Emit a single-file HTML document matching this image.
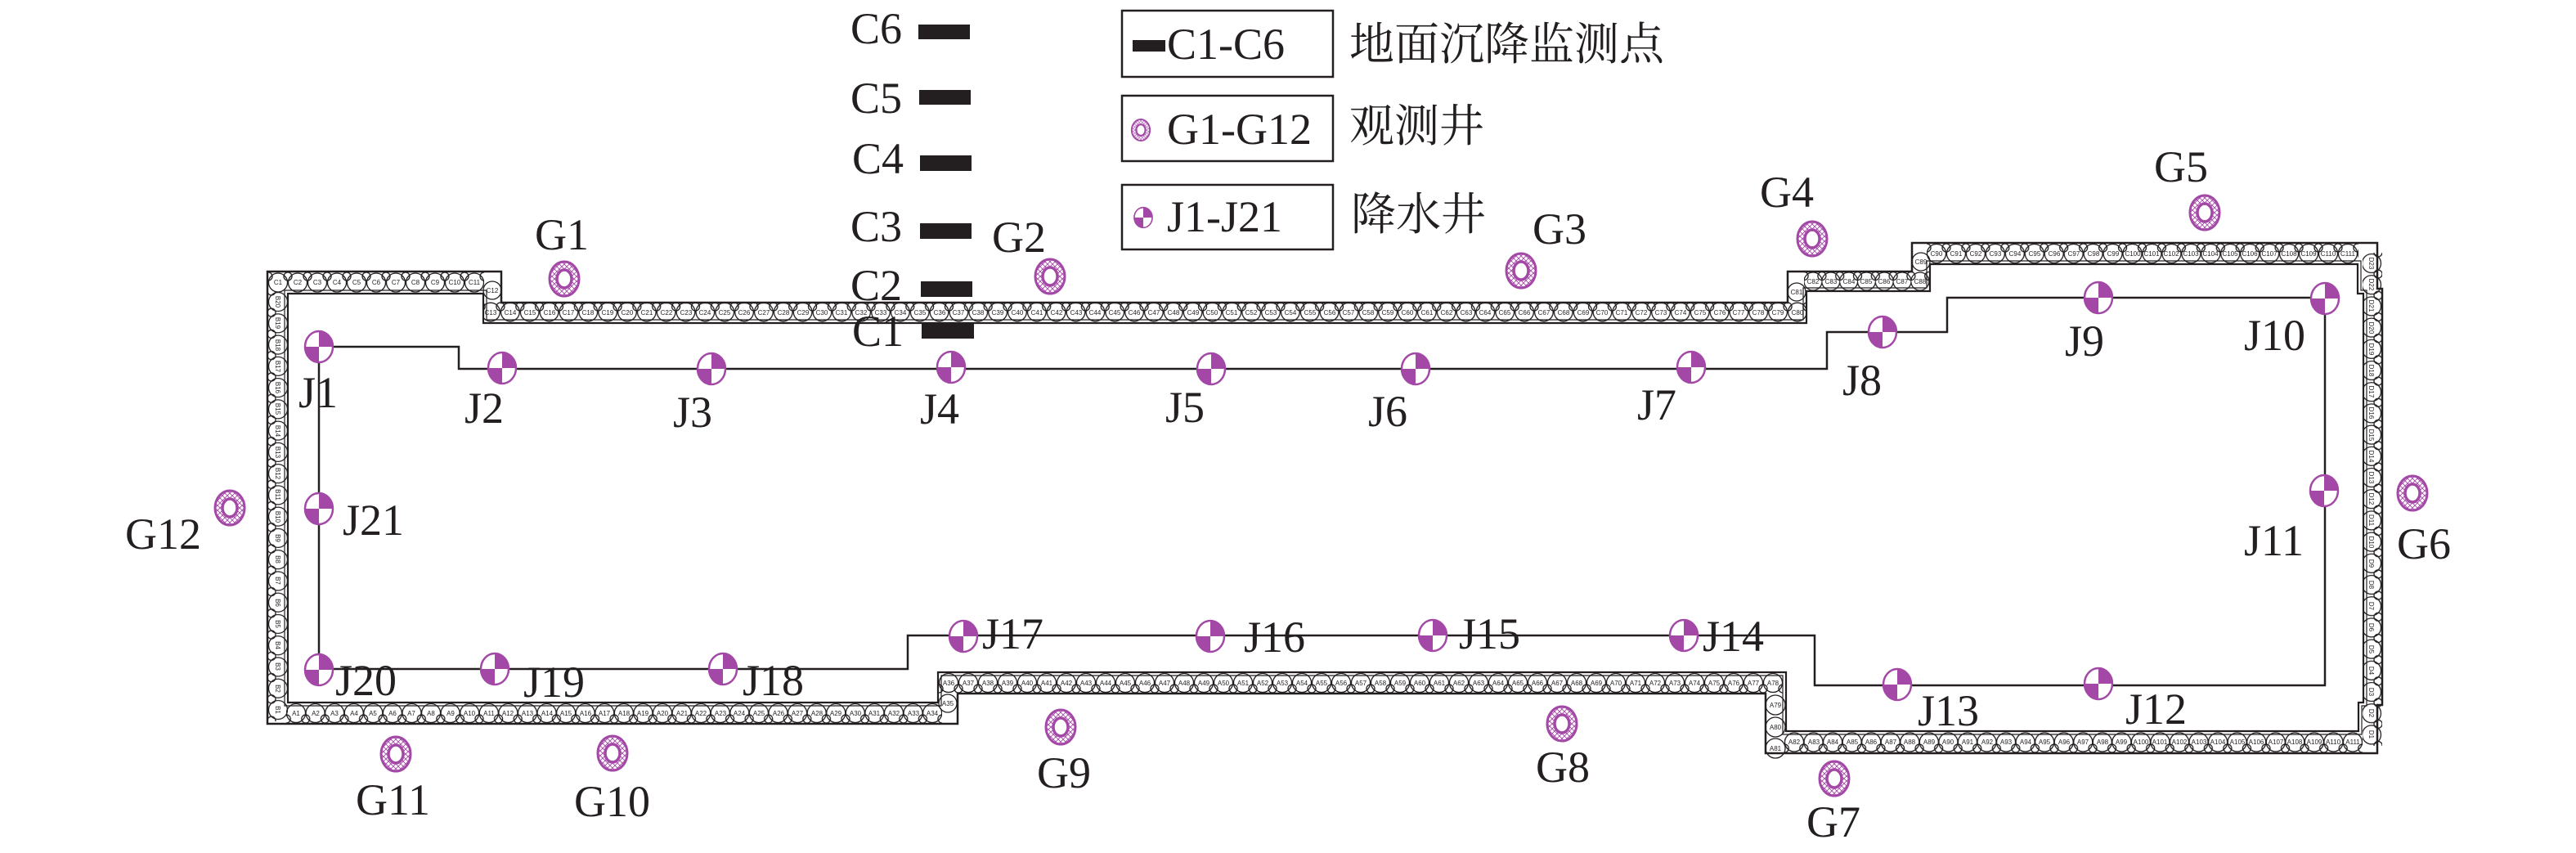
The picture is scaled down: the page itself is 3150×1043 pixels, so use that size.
<!DOCTYPE html>
<html>
<head>
<meta charset="utf-8">
<style>
html,body{margin:0;padding:0;background:#fff;}
svg{display:block;}
.lb{font-family:"Liberation Serif","Times New Roman",serif;font-size:54px;fill:#231f20;}
.cn{font-family:"Liberation Serif","Noto Serif CJK SC","Noto Sans CJK SC",serif;font-size:55px;fill:#231f20;}
.w{font-family:"Liberation Sans",sans-serif;font-size:8px;fill:#231f20;text-anchor:middle;}
</style>
</head>
<body>
<svg width="3150" height="1043" viewBox="0 0 3150 1043" xmlns="http://www.w3.org/2000/svg">
<rect width="3150" height="1043" fill="#fff"/>
<defs>
<pattern id="h" patternUnits="userSpaceOnUse" width="6" height="6"><path d="M0,0L6,6M6,0L0,6" stroke="#a348a6" stroke-width="0.9"/></pattern>
<g id="G">
<path d="M-18,0a18,21 0 1,0 36,0a18,21 0 1,0 -36,0ZM-9,0a9,11 0 1,0 18,0a9,11 0 1,0 -18,0Z" fill="url(#h)" fill-rule="evenodd"/>
<ellipse rx="18" ry="21" fill="none" stroke="#a348a6" stroke-width="3"/>
<ellipse rx="9" ry="11" fill="none" stroke="#a348a6" stroke-width="3.5"/>
</g>
<g id="J">
<ellipse rx="17" ry="19" fill="#fff" stroke="#a348a6" stroke-width="2.5"/>
<path d="M0,0V-19A17,19 0 0 1 17,0ZM0,0V19A17,19 0 0 1 -17,0Z" fill="#a348a6"/>
</g>
<pattern id="pT1" patternUnits="userSpaceOnUse" x="328" y="332" width="24" height="27"><g fill="none" stroke="#231f20" stroke-width="1.3"><circle cx="12" cy="13.5" r="11.5"/><circle cx="0" cy="6" r="5"/><circle cx="24" cy="6" r="5"/></g></pattern>
<pattern id="pT2" patternUnits="userSpaceOnUse" x="588.075" y="369" width="23.85" height="26"><g fill="none" stroke="#231f20" stroke-width="1.3"><circle cx="11.925" cy="12.5" r="11.3"/><circle cx="0" cy="6" r="5"/><circle cx="23.85" cy="6" r="5"/></g></pattern>
<pattern id="pT3" patternUnits="userSpaceOnUse" x="2206.1" y="332" width="21.8" height="24"><g fill="none" stroke="#231f20" stroke-width="1.3"><circle cx="10.9" cy="12" r="11"/><circle cx="0" cy="5.5" r="5"/><circle cx="21.8" cy="5.5" r="5"/></g></pattern>
<pattern id="pT4" patternUnits="userSpaceOnUse" x="2356.025" y="297" width="23.95" height="26"><g fill="none" stroke="#231f20" stroke-width="1.3"><circle cx="11.975" cy="13" r="11.5"/><circle cx="0" cy="6" r="5"/><circle cx="23.95" cy="6" r="5"/></g></pattern>
<pattern id="pR" patternUnits="userSpaceOnUse" x="2889" y="308.9" width="24" height="26.2"><g fill="none" stroke="#231f20" stroke-width="1.3"><circle cx="11" cy="13.1" r="11.5"/><circle cx="19" cy="0" r="5"/><circle cx="19" cy="26.2" r="5"/></g></pattern>
<pattern id="pB4" patternUnits="userSpaceOnUse" x="2182.225" y="894" width="23.55" height="27"><g fill="none" stroke="#231f20" stroke-width="1.3"><circle cx="11.775" cy="13.5" r="11.5"/><circle cx="0" cy="21" r="5"/><circle cx="23.55" cy="21" r="5"/></g></pattern>
<pattern id="pB3" patternUnits="userSpaceOnUse" x="1148" y="822" width="24" height="26"><g fill="none" stroke="#231f20" stroke-width="1.3"><circle cx="12" cy="13" r="11.5"/><circle cx="0" cy="20" r="5"/><circle cx="24" cy="20" r="5"/></g></pattern>
<pattern id="pB1" patternUnits="userSpaceOnUse" x="350.21" y="859" width="23.58" height="26"><g fill="none" stroke="#231f20" stroke-width="1.3"><circle cx="11.79" cy="13" r="11.5"/><circle cx="0" cy="20" r="5"/><circle cx="23.58" cy="20" r="5"/></g></pattern>
<pattern id="pL" patternUnits="userSpaceOnUse" x="327" y="355.93" width="25" height="26.26"><g fill="none" stroke="#231f20" stroke-width="1.3"><circle cx="13" cy="13.13" r="11.5"/><circle cx="5" cy="0" r="5"/><circle cx="5" cy="26.26" r="5"/></g></pattern>
</defs>

<!-- wall band circles -->
<rect x="328" y="332" width="264" height="27" fill="url(#pT1)"/>
<rect x="591" y="369" width="1619" height="26" fill="url(#pT2)"/>
<rect x="2206" y="332" width="153" height="24" fill="url(#pT3)"/>
<rect x="2356" y="297" width="528" height="26" fill="url(#pT4)"/>
<rect x="2889" y="309" width="24" height="603" fill="url(#pR)"/>
<rect x="2182" y="894" width="707" height="27" fill="url(#pB4)"/>
<rect x="1148" y="822" width="1032" height="26" fill="url(#pB3)"/>
<rect x="350" y="859" width="802" height="26" fill="url(#pB1)"/>
<rect x="327" y="356" width="25" height="526" fill="url(#pL)"/>
<g fill="none" stroke="#231f20" stroke-width="1.3">
<circle cx="602" cy="355" r="11"/><circle cx="2197" cy="357" r="11"/><circle cx="2349" cy="320" r="11"/>
<circle cx="1159" cy="860" r="11"/><circle cx="2171" cy="862" r="12"/><circle cx="2171" cy="889" r="12"/><circle cx="2171" cy="915" r="12"/>
</g>

<!-- wall band labels -->
<g class="w">
<text x="340" y="348">C1</text><text x="364" y="348">C2</text><text x="388" y="348">C3</text><text x="412" y="348">C4</text><text x="436" y="348">C5</text><text x="460" y="348">C6</text><text x="484" y="348">C7</text><text x="508" y="348">C8</text><text x="532" y="348">C9</text><text x="556" y="348">C10</text><text x="580" y="348">C11</text>
<text x="602" y="358">C12</text>
<text x="600" y="385">C13</text><text x="624" y="385">C14</text><text x="648" y="385">C15</text><text x="672" y="385">C16</text><text x="695" y="385">C17</text><text x="719" y="385">C18</text><text x="743" y="385">C19</text><text x="767" y="385">C20</text><text x="791" y="385">C21</text><text x="815" y="385">C22</text><text x="839" y="385">C23</text><text x="862" y="385">C24</text><text x="886" y="385">C25</text><text x="910" y="385">C26</text><text x="934" y="385">C27</text><text x="958" y="385">C28</text><text x="982" y="385">C29</text><text x="1005" y="385">C30</text><text x="1029" y="385">C31</text><text x="1053" y="385">C32</text><text x="1077" y="385">C33</text><text x="1101" y="385">C34</text><text x="1125" y="385">C35</text><text x="1149" y="385">C36</text><text x="1172" y="385">C37</text><text x="1196" y="385">C38</text><text x="1220" y="385">C39</text><text x="1244" y="385">C40</text><text x="1268" y="385">C41</text><text x="1292" y="385">C42</text><text x="1316" y="385">C43</text><text x="1339" y="385">C44</text><text x="1363" y="385">C45</text><text x="1387" y="385">C46</text><text x="1411" y="385">C47</text><text x="1435" y="385">C48</text><text x="1459" y="385">C49</text><text x="1482" y="385">C50</text><text x="1506" y="385">C51</text><text x="1530" y="385">C52</text><text x="1554" y="385">C53</text><text x="1578" y="385">C54</text><text x="1602" y="385">C55</text><text x="1626" y="385">C56</text><text x="1649" y="385">C57</text><text x="1673" y="385">C58</text><text x="1697" y="385">C59</text><text x="1721" y="385">C60</text><text x="1745" y="385">C61</text><text x="1769" y="385">C62</text><text x="1793" y="385">C63</text><text x="1816" y="385">C64</text><text x="1840" y="385">C65</text><text x="1864" y="385">C66</text><text x="1888" y="385">C67</text><text x="1912" y="385">C68</text><text x="1936" y="385">C69</text><text x="1959" y="385">C70</text><text x="1983" y="385">C71</text><text x="2007" y="385">C72</text><text x="2031" y="385">C73</text><text x="2055" y="385">C74</text><text x="2079" y="385">C75</text><text x="2103" y="385">C76</text><text x="2126" y="385">C77</text><text x="2150" y="385">C78</text><text x="2174" y="385">C79</text><text x="2198" y="385">C80</text>
<text x="2197" y="360">C81</text>
<text x="2217" y="347">C82</text><text x="2239" y="347">C83</text><text x="2261" y="347">C84</text><text x="2282" y="347">C85</text><text x="2304" y="347">C86</text><text x="2326" y="347">C87</text><text x="2348" y="347">C88</text>
<text x="2349" y="323">C89</text>
<text x="2368" y="313">C90</text><text x="2392" y="313">C91</text><text x="2416" y="313">C92</text><text x="2440" y="313">C93</text><text x="2464" y="313">C94</text><text x="2488" y="313">C95</text><text x="2512" y="313">C96</text><text x="2536" y="313">C97</text><text x="2560" y="313">C98</text><text x="2584" y="313">C99</text><text x="2608" y="313">C100</text><text x="2631" y="313">C101</text><text x="2655" y="313">C102</text><text x="2679" y="313">C103</text><text x="2703" y="313">C104</text><text x="2727" y="313">C105</text><text x="2751" y="313">C106</text><text x="2775" y="313">C107</text><text x="2799" y="313">C108</text><text x="2823" y="313">C109</text><text x="2847" y="313">C110</text><text x="2871" y="313">C111</text>
<text x="2194" y="910">A82</text><text x="2218" y="910">A83</text><text x="2241" y="910">A84</text><text x="2265" y="910">A85</text><text x="2288" y="910">A86</text><text x="2312" y="910">A87</text><text x="2335" y="910">A88</text><text x="2359" y="910">A89</text><text x="2382" y="910">A90</text><text x="2406" y="910">A91</text><text x="2430" y="910">A92</text><text x="2453" y="910">A93</text><text x="2477" y="910">A94</text><text x="2500" y="910">A95</text><text x="2524" y="910">A96</text><text x="2547" y="910">A97</text><text x="2571" y="910">A98</text><text x="2594" y="910">A99</text><text x="2618" y="910">A100</text><text x="2641" y="910">A101</text><text x="2665" y="910">A102</text><text x="2689" y="910">A103</text><text x="2712" y="910">A104</text><text x="2736" y="910">A105</text><text x="2759" y="910">A106</text><text x="2783" y="910">A107</text><text x="2806" y="910">A108</text><text x="2830" y="910">A109</text><text x="2853" y="910">A110</text><text x="2877" y="910">A111</text>
<text x="2171" y="865">A79</text><text x="2171" y="892">A80</text><text x="2171" y="918">A81</text>
<text x="1160" y="838">A36</text><text x="1184" y="838">A37</text><text x="1208" y="838">A38</text><text x="1232" y="838">A39</text><text x="1256" y="838">A40</text><text x="1280" y="838">A41</text><text x="1304" y="838">A42</text><text x="1328" y="838">A43</text><text x="1352" y="838">A44</text><text x="1376" y="838">A45</text><text x="1400" y="838">A46</text><text x="1424" y="838">A47</text><text x="1448" y="838">A48</text><text x="1472" y="838">A49</text><text x="1496" y="838">A50</text><text x="1520" y="838">A51</text><text x="1544" y="838">A52</text><text x="1568" y="838">A53</text><text x="1592" y="838">A54</text><text x="1616" y="838">A55</text><text x="1640" y="838">A56</text><text x="1664" y="838">A57</text><text x="1688" y="838">A58</text><text x="1712" y="838">A59</text><text x="1736" y="838">A60</text><text x="1760" y="838">A61</text><text x="1784" y="838">A62</text><text x="1808" y="838">A63</text><text x="1832" y="838">A64</text><text x="1856" y="838">A65</text><text x="1880" y="838">A66</text><text x="1904" y="838">A67</text><text x="1928" y="838">A68</text><text x="1952" y="838">A69</text><text x="1976" y="838">A70</text><text x="2000" y="838">A71</text><text x="2024" y="838">A72</text><text x="2048" y="838">A73</text><text x="2072" y="838">A74</text><text x="2096" y="838">A75</text><text x="2120" y="838">A76</text><text x="2144" y="838">A77</text><text x="2168" y="838">A78</text>
<text x="1159" y="863">A35</text>
<text x="362" y="875">A1</text><text x="386" y="875">A2</text><text x="409" y="875">A3</text><text x="433" y="875">A4</text><text x="456" y="875">A5</text><text x="480" y="875">A6</text><text x="503" y="875">A7</text><text x="527" y="875">A8</text><text x="551" y="875">A9</text><text x="574" y="875">A10</text><text x="598" y="875">A11</text><text x="621" y="875">A12</text><text x="645" y="875">A13</text><text x="669" y="875">A14</text><text x="692" y="875">A15</text><text x="716" y="875">A16</text><text x="739" y="875">A17</text><text x="763" y="875">A18</text><text x="786" y="875">A19</text><text x="810" y="875">A20</text><text x="834" y="875">A21</text><text x="857" y="875">A22</text><text x="881" y="875">A23</text><text x="904" y="875">A24</text><text x="928" y="875">A25</text><text x="952" y="875">A26</text><text x="975" y="875">A27</text><text x="999" y="875">A28</text><text x="1022" y="875">A29</text><text x="1046" y="875">A30</text><text x="1069" y="875">A31</text><text x="1093" y="875">A32</text><text x="1117" y="875">A33</text><text x="1140" y="875">A34</text>
<g transform="translate(2900,0) rotate(90)">
<text x="322" y="3">D23</text><text x="348" y="3">D22</text><text x="374" y="3">D21</text><text x="401" y="3">D20</text><text x="427" y="3">D19</text><text x="453" y="3">D18</text><text x="479" y="3">D17</text><text x="505" y="3">D16</text><text x="532" y="3">D15</text><text x="558" y="3">D14</text><text x="584" y="3">D13</text><text x="610" y="3">D12</text><text x="636" y="3">D11</text><text x="663" y="3">D10</text><text x="689" y="3">D9</text><text x="715" y="3">D8</text><text x="741" y="3">D7</text><text x="767" y="3">D6</text><text x="794" y="3">D5</text><text x="820" y="3">D4</text><text x="846" y="3">D3</text><text x="872" y="3">D2</text><text x="898" y="3">D1</text>
</g>
<g transform="translate(340,0) rotate(90)">
<text x="868" y="3">B1</text><text x="842" y="3">B2</text><text x="815" y="3">B3</text><text x="789" y="3">B4</text><text x="763" y="3">B5</text><text x="737" y="3">B6</text><text x="710" y="3">B7</text><text x="684" y="3">B8</text><text x="658" y="3">B9</text><text x="632" y="3">B10</text><text x="605" y="3">B11</text><text x="579" y="3">B12</text><text x="553" y="3">B13</text><text x="527" y="3">B14</text><text x="500" y="3">B15</text><text x="474" y="3">B16</text><text x="448" y="3">B17</text><text x="422" y="3">B18</text><text x="395" y="3">B19</text><text x="369" y="3">B20</text>
</g>
</g>

<!-- wall outlines -->
<g fill="none" stroke="#231f20" stroke-linejoin="miter">
<path d="M327,332H613V370H2186V332H2338V297H2907V353H2913V862H2907V921H2159V848H1171V885H327Z" stroke-width="2.5"/>
<path d="M352,359H591V395H2209V356H2360V323H2883V359H2890V859H2884V894H2184V822H1147V859H352Z" stroke-width="2.2"/>
<path d="M348,355H595V391H2205V352H2356V319H2887V355H2894V863H2888V898H2180V826H1151V863H348Z" stroke-width="1.2"/>
</g>

<!-- dewatering well connection line -->
<path d="M390,424H561V451H2234V406H2381V364H2843V838H2219V777H1110V818H390Z" fill="none" stroke="#231f20" stroke-width="2.5"/>

<!-- C bars -->
<g fill="#231f20">
<rect x="1123" y="30" width="63" height="18"/>
<rect x="1124" y="110" width="63" height="18"/>
<rect x="1125" y="190" width="63" height="19"/>
<rect x="1125" y="273" width="63" height="19"/>
<rect x="1126" y="344" width="63" height="19"/>
<rect x="1127" y="396" width="64" height="18"/>
</g>

<!-- Legend -->
<g fill="none" stroke="#231f20" stroke-width="2.5">
<rect x="1372" y="13" width="258" height="81"/>
<rect x="1372" y="117" width="258" height="80"/>
<rect x="1372" y="226" width="258" height="79"/>
</g>
<rect x="1385" y="49" width="40" height="14" fill="#231f20"/>
<use href="#G" transform="translate(1395,159) scale(0.62)"/>
<use href="#J" transform="translate(1398,266) scale(0.65)"/>
<text class="lb" x="1427" y="72">C1-C6</text>
<text class="lb" x="1427" y="176">G1-G12</text>
<text class="lb" x="1427" y="283">J1-J21</text>
<text class="cn" x="1650" y="73">地面沉降监测点</text>
<text class="cn" x="1650" y="173">观测井</text>
<text class="cn" x="1652" y="281">降水井</text>

<!-- C labels -->
<text class="lb" x="1040" y="53">C6</text>
<text class="lb" x="1040" y="138">C5</text>
<text class="lb" x="1042" y="212">C4</text>
<text class="lb" x="1040" y="295">C3</text>
<text class="lb" x="1040" y="367">C2</text>
<text class="lb" x="1042" y="423">C1</text>

<!-- G wells -->
<use href="#G" x="690" y="341"/>
<use href="#G" x="1284" y="338"/>
<use href="#G" x="1860" y="331"/>
<use href="#G" x="2216" y="292"/>
<use href="#G" x="2696" y="260"/>
<use href="#G" x="2950" y="603"/>
<use href="#G" x="2243" y="952"/>
<use href="#G" x="1910" y="885"/>
<use href="#G" x="1297" y="889"/>
<use href="#G" x="749" y="921"/>
<use href="#G" x="484" y="922"/>
<use href="#G" x="281" y="621"/>

<text class="lb" x="654" y="305">G1</text>
<text class="lb" x="1213" y="308">G2</text>
<text class="lb" x="1874" y="298">G3</text>
<text class="lb" x="2152" y="253">G4</text>
<text class="lb" x="2634" y="222">G5</text>
<text class="lb" x="2931" y="683">G6</text>
<text class="lb" x="2209" y="1023">G7</text>
<text class="lb" x="1878" y="956">G8</text>
<text class="lb" x="1268" y="963">G9</text>
<text class="lb" x="702" y="998">G10</text>
<text class="lb" x="435" y="996">G11</text>
<text class="lb" x="153" y="671">G12</text>

<!-- J wells -->
<use href="#J" x="390" y="424"/>
<use href="#J" x="614" y="450"/>
<use href="#J" x="870" y="451"/>
<use href="#J" x="1163" y="449"/>
<use href="#J" x="1481" y="451"/>
<use href="#J" x="1731" y="451"/>
<use href="#J" x="2068" y="449"/>
<use href="#J" x="2302" y="406"/>
<use href="#J" x="2566" y="364"/>
<use href="#J" x="2843" y="365"/>
<use href="#J" x="2842" y="600"/>
<use href="#J" x="2566" y="836"/>
<use href="#J" x="2320" y="837"/>
<use href="#J" x="2059" y="777"/>
<use href="#J" x="1752" y="777"/>
<use href="#J" x="1480" y="778"/>
<use href="#J" x="1178" y="778"/>
<use href="#J" x="884" y="818"/>
<use href="#J" x="605" y="818"/>
<use href="#J" x="390" y="819"/>
<use href="#J" x="390" y="622"/>

<text class="lb" x="365" y="498">J1</text>
<text class="lb" x="568" y="517">J2</text>
<text class="lb" x="823" y="522">J3</text>
<text class="lb" x="1125" y="518">J4</text>
<text class="lb" x="1425" y="516">J5</text>
<text class="lb" x="1673" y="521">J6</text>
<text class="lb" x="2002" y="513">J7</text>
<text class="lb" x="2253" y="483">J8</text>
<text class="lb" x="2525" y="435">J9</text>
<text class="lb" x="2744" y="428">J10</text>
<text class="lb" x="2744" y="679">J11</text>
<text class="lb" x="2599" y="885">J12</text>
<text class="lb" x="2345" y="887">J13</text>
<text class="lb" x="2082" y="796">J14</text>
<text class="lb" x="1784" y="793">J15</text>
<text class="lb" x="1521" y="797">J16</text>
<text class="lb" x="1201" y="793">J17</text>
<text class="lb" x="908" y="850">J18</text>
<text class="lb" x="640" y="852">J19</text>
<text class="lb" x="410" y="850">J20</text>
<text class="lb" x="419" y="654">J21</text>
</svg>
</body>
</html>
